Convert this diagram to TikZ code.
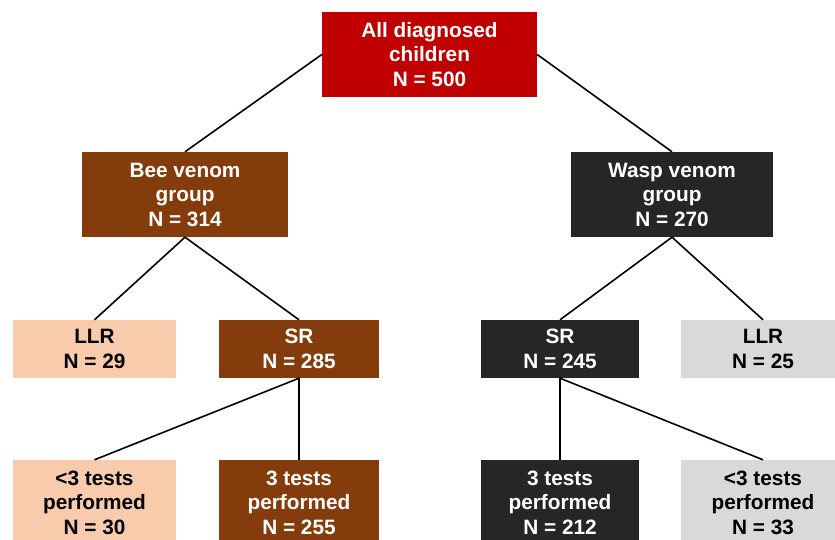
\documentclass[tikz,border=0pt]{standalone}
\usepackage{fontspec}
\setmainfont{Liberation Sans}
\usetikzlibrary{positioning}

\definecolor{allred}{HTML}{C00000}
\definecolor{beebrown}{HTML}{843C0C}
\definecolor{waspdark}{HTML}{262626}
\definecolor{beelight}{HTML}{F8CBAD}
\definecolor{wasplight}{HTML}{D9D9D9}

\begin{document}
\begin{tikzpicture}[x=1pt, y=-1pt, font=\fontsize{20.8}{24.5}\selectfont\bfseries,
  box/.style={rectangle, align=center, inner sep=0pt, text=white},
  big/.style={box, minimum height=85pt},
  small/.style={box, minimum height=58pt},
  link/.style={line width=1.6pt, black}]

\useasboundingbox (0,0) rectangle (835,540);
\clip (0,0) rectangle (835,540);

\node[big, fill=allred, minimum width=215pt] (all) at (429.5,54.5) {All diagnosed\\children\\N = 500};

\node[big, fill=beebrown, minimum width=206pt] (bee) at (185,194.5) {Bee venom\\group\\N = 314};
\node[big, fill=waspdark, minimum width=202pt] (wasp) at (672,194.5) {Wasp venom\\group\\N = 270};

\node[small, fill=beelight, text=black, minimum width=163pt] (llrB) at (94.5,349) {LLR\\N = 29};
\node[small, fill=beebrown, minimum width=160pt] (srB) at (299,349) {SR\\N = 285};
\node[small, fill=waspdark, minimum width=158pt] (srW) at (560,349) {SR\\N = 245};
\node[small, fill=wasplight, text=black, minimum width=164pt] (llrW) at (763,349) {LLR\\N = 25};

\node[big, fill=beelight, text=black, minimum width=163pt] (lowB) at (94.5,502.5) {<3 tests\\performed\\N = 30};
\node[big, fill=beebrown, minimum width=160pt] (fullB) at (299,502.5) {3 tests\\performed\\N = 255};
\node[big, fill=waspdark, minimum width=158pt] (fullW) at (560,502.5) {3 tests\\performed\\N = 212};
\node[big, fill=wasplight, text=black, minimum width=164pt] (lowW) at (763,502.5) {<3 tests\\performed\\N = 33};

\draw[link] (all.west) -- (bee.north);
\draw[link] (all.east) -- (wasp.north);
\draw[link] (bee.south) -- (llrB.north);
\draw[link] (bee.south) -- (srB.north);
\draw[link] (wasp.south) -- (srW.north);
\draw[link] (wasp.south) -- (llrW.north);
\draw[link] (srB.south) -- (lowB.north);
\draw[link] (srB.south) -- (fullB.north);
\draw[link] (srW.south) -- (fullW.north);
\draw[link] (srW.south) -- (lowW.north);

\end{tikzpicture}
\end{document}
